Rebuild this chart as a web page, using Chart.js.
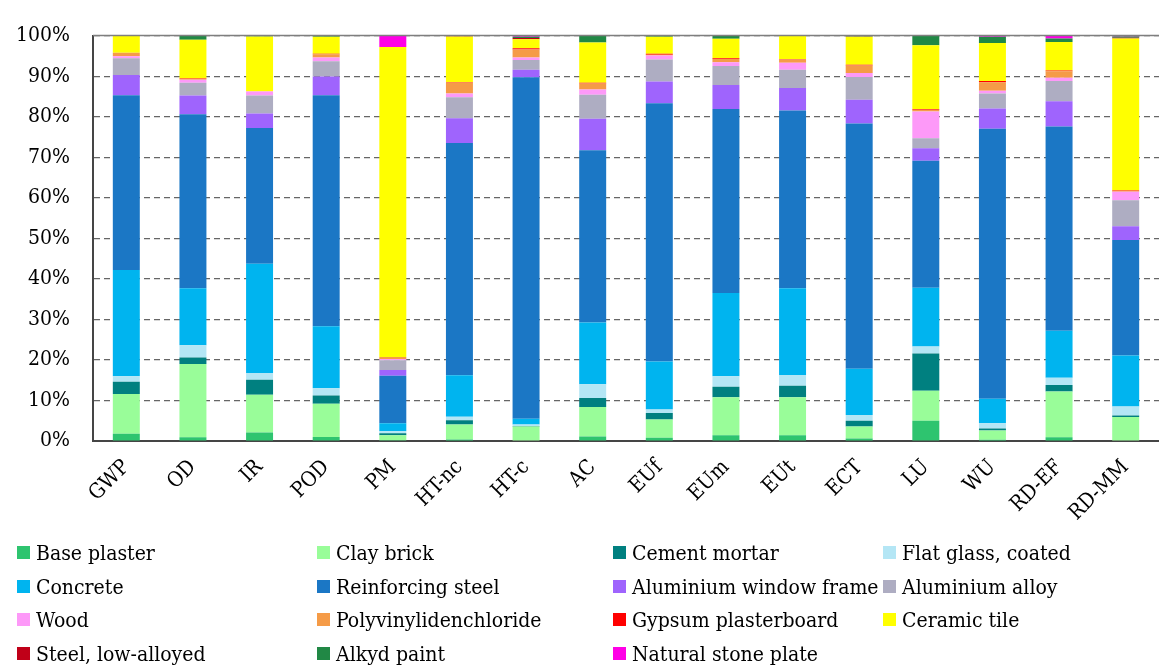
<!DOCTYPE html>
<html>
<head>
<meta charset="utf-8">
<script src="https://cdn.jsdelivr.net/npm/chart.js@4/dist/chart.umd.min.js"></script>
<style>
  body { margin: 0; background: #fff; }
  #wrap { position: absolute; left: 0; top: 0; width: 1159px; height: 540px; }
  #legend { position: absolute; left: 0; top: 536px; width: 1159px; height: 130px;
            font-family: "DejaVu Serif Condensed", "DejaVu Serif", serif; font-size: 21px; color: #000; }
  .item { position: absolute; white-space: nowrap; line-height: 24px; }
  .box { display: inline-block; width: 13px; height: 13px; margin-right: 6px; vertical-align: 1px; }
</style>
</head>
<body>
<div id="wrap"><canvas id="impactChart"></canvas></div>
<div id="legend"></div>
<script>
const categories = ["GWP", "OD", "IR", "POD", "PM", "HT-nc", "HT-c", "AC", "EUf", "EUm", "EUt", "ECT", "LU", "WU", "RD-EF", "RD-MM"];

// share of each material per impact category (%)
const basePlaster  = [1.8, 0.9, 2.1, 1.0, 0.2, 0.4, 0.1, 1.1, 0.8, 1.4, 1.4, 0.6, 5.0, 0.3, 0.9, 0.1];
const clayBrick    = [9.8, 18.1, 9.3, 8.2, 1.2, 3.7, 3.5, 7.3, 4.5, 9.4, 9.4, 3.0, 7.4, 2.3, 11.3, 5.8];
const cementMortar = [3.0, 1.6, 3.7, 2.0, 0.5, 1.0, 0.1, 2.2, 1.6, 2.6, 2.8, 1.4, 9.2, 0.5, 1.6, 0.4];
const flatGlass    = [1.4, 3.0, 1.7, 1.8, 0.5, 0.9, 0.4, 3.4, 0.9, 2.6, 2.7, 1.4, 1.7, 1.3, 1.8, 2.2];
const concrete     = [26.2, 14.1, 26.9, 15.3, 2.0, 10.2, 1.4, 15.2, 11.8, 20.5, 21.4, 11.4, 14.5, 6.0, 11.6, 12.6];
const reinfSteel   = [43.1, 42.9, 33.5, 57.0, 11.7, 57.3, 84.2, 42.5, 63.7, 45.4, 43.8, 60.5, 31.3, 66.6, 50.4, 28.5];
const aluFrame     = [5.0, 4.6, 3.6, 4.6, 1.4, 6.1, 1.9, 7.8, 5.4, 5.9, 5.6, 5.9, 3.1, 5.0, 6.2, 3.4];
const aluAlloy     = [4.1, 3.2, 4.4, 3.8, 2.4, 5.2, 2.4, 5.9, 5.4, 4.7, 4.5, 5.6, 2.5, 3.7, 5.0, 6.4];
const wood         = [0.5, 0.7, 1.0, 0.9, 0.3, 0.9, 0.6, 1.3, 1.0, 0.9, 1.7, 1.0, 6.6, 0.7, 0.8, 2.1];
const pvdc         = [0.9, 0.2, 0.1, 0.8, 0.5, 2.7, 2.0, 1.5, 0.2, 0.8, 0.8, 1.8, 0.4, 2.1, 1.6, 0.1];
const gypsum       = [0, 0.1, 0, 0.1, 0, 0.1, 0.3, 0.2, 0.2, 0.2, 0.1, 0.2, 0.2, 0.3, 0.2, 0.2];
const ceramicTile  = [4.1, 9.6, 13.5, 4.2, 76.5, 11.3, 2.2, 9.9, 4.2, 4.8, 5.7, 6.9, 15.7, 9.4, 7.0, 37.5];
const steelLow     = [0, 0, 0, 0, 0, 0.1, 0.3, 0, 0, 0, 0, 0.1, 0, 0, 0, 0.2];
const alkydPaint   = [0.1, 0.9, 0.1, 0.2, 0, 0.1, 0.3, 1.6, 0.3, 0.8, 0.1, 0.2, 2.4, 1.5, 0.9, 0.3];
const naturalStone = [0, 0, 0, 0, 2.7, 0, 0.3, 0, 0, 0, 0, 0, 0, 0.3, 0.6, 0.2];

const materials = ["Base plaster", "Clay brick", "Cement mortar", "Flat glass, coated",
  "Concrete", "Reinforcing steel", "Aluminium window frame", "Aluminium alloy",
  "Wood", "Polyvinylidenchloride", "Gypsum plasterboard", "Ceramic tile",
  "Steel, low-alloyed", "Alkyd paint", "Natural stone plate"];
const series = [basePlaster, clayBrick, cementMortar, flatGlass, concrete, reinfSteel, aluFrame, aluAlloy,
  wood, pvdc, gypsum, ceramicTile, steelLow, alkydPaint, naturalStone];
const colors = ["#2ec46f", "#99fd99", "#008080", "#b4e6f5", "#00b4ef", "#1b77c5", "#9f64fd", "#aeadc2",
  "#fd99f8", "#f59b47", "#ff0000", "#ffff00", "#c00018", "#218845", "#ff00e6"];

const font = { family: "'DejaVu Serif Condensed', 'DejaVu Serif', serif", size: 21 };

// solid line along the top of the plot
const topLine = {
  id: "topLine",
  afterDatasetsDraw(chart) {
    const { ctx, chartArea } = chart;
    ctx.save();
    ctx.strokeStyle = "#7f7f7f";
    ctx.lineWidth = 1.5;
    ctx.beginPath();
    ctx.moveTo(chartArea.left, chartArea.top);
    ctx.lineTo(chartArea.right, chartArea.top);
    ctx.stroke();
    ctx.restore();
  }
};

new Chart(document.getElementById("impactChart"), {
  type: "bar",
  data: {
    labels: categories,
    datasets: series.map((d, i) => ({
      label: materials[i],
      data: d,
      backgroundColor: colors[i],
      borderWidth: 0,
      categoryPercentage: 1,
      barPercentage: 0.405
    }))
  },
  options: {
    responsive: true,
    maintainAspectRatio: false,
    animation: false,
    layout: { padding: { top: 24, right: 0, left: 0, bottom: 0 } },
    plugins: {
      legend: { display: false },
      tooltip: { enabled: false }
    },
    scales: {
      x: {
        stacked: true,
        grid: { display: false, drawTicks: false },
        border: { color: "#454545", width: 2 },
        ticks: { color: "#000", font: font, minRotation: 45, maxRotation: 45, padding: 14 },
        afterFit: s => { s.height = 99; }
      },
      y: {
        stacked: true,
        min: 0,
        max: 100,
        ticks: { stepSize: 10, color: "#000", font: font, padding: 23, callback: v => v + "%" },
        grid: { color: "#666", lineWidth: 1.2, drawTicks: false },
        border: { color: "#454545", width: 2, dash: [6, 4] },
        afterFit: s => { s.width = 93; }
      }
    }
  },
  plugins: [topLine]
});

// legend in four columns, as in the original figure
const legend = document.getElementById("legend");
const colLeft = [17, 317, 613, 883];
materials.forEach((name, i) => {
  const el = document.createElement("div");
  el.className = "item";
  el.style.left = colLeft[i % 4] + "px";
  el.style.top = (5 + Math.floor(i / 4) * 33.7) + "px";
  el.innerHTML = '<span class="box" style="background:' + colors[i] + '"></span>' + name;
  legend.appendChild(el);
});
</script>
</body>
</html>
